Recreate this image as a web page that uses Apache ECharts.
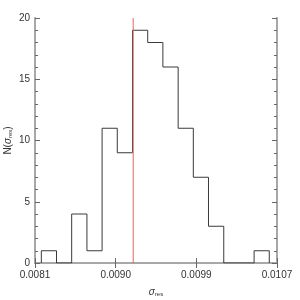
<!DOCTYPE html>
<html><head><meta charset="utf-8">
<script src="https://cdn.jsdelivr.net/npm/echarts@6/dist/echarts.min.js"></script>
<style>html,body{margin:0;padding:0;background:#fff}#c{width:300px;height:300px}</style>
</head><body><div id="c"></div>
<script>
// bin edges (sigma_res) and counts
const binEdges = [0.008188, 0.008351, 0.008514, 0.008678, 0.008841, 0.009004, 0.009168, 0.009331,
                  0.009494, 0.009658, 0.009821, 0.009984, 0.010148, 0.010311, 0.010474, 0.010637];
const counts = [1, 0, 4, 1, 11, 9, 19, 18, 16, 11, 7, 3, 0, 0, 1];
const xRange = [0.00812, 0.01072];
const xTickValues = [0.00812, 0.008987, 0.009853, 0.01072];
const xTickLabels = ['0.0081', '0.0090', '0.0099', '0.0107'];
const redLineX = 0.009175;

const stepData = [[binEdges[0], 0]];
counts.forEach((c, i) => stepData.push([binEdges[i], c]));
stepData.push([binEdges[binEdges.length - 1], counts[counts.length - 1]]);
stepData.push([binEdges[binEdges.length - 1], 0]);

const axisGray = '#a8a8a8';
const txt = '#333';
const font = 'Liberation Sans';
const rich = {
  s: {fontSize: 10, fontStyle: 'italic', fontFamily: font, color: txt, lineHeight: 12},
  n: {fontSize: 10, fontFamily: font, color: txt, lineHeight: 12},
  r: {fontSize: 6, fontFamily: font, color: txt, lineHeight: 6, padding: [5, 0, 0, 0]}
};

const chart = echarts.init(document.getElementById('c'), null, {renderer: 'canvas'});
chart.setOption({
  animation: false,
  backgroundColor: '#fff',
  grid: {left: 35, right: 23, top: 18, bottom: 37, containLabel: false, outerBoundsMode: 'none'},
  xAxis: [{
    type: 'value', min: xRange[0], max: xRange[1], position: 'bottom',
    name: '{s|σ}{r|res}', nameLocation: 'middle', nameGap: 23,
    nameTextStyle: {rich: rich},
    axisLine: {show: true, lineStyle: {color: axisGray, width: 2}},
    axisTick: {show: true, inside: true, length: 5, customValues: xTickValues, lineStyle: {color: '#666'}},
    axisLabel: {customValues: xTickValues, margin: 7, color: txt, fontSize: 10, fontFamily: font,
      formatter: v => { const i = xTickValues.findIndex(t => Math.abs(t - v) < 1e-7); return i >= 0 ? xTickLabels[i] : ''; }},
    splitLine: {show: false}
  }, {
    type: 'value', min: xRange[0], max: xRange[1], position: 'top',
    axisLine: {show: true, lineStyle: {color: axisGray, width: 2}},
    axisTick: {show: true, inside: true, length: 5, customValues: xTickValues, lineStyle: {color: '#666'}},
    axisLabel: {show: false}, splitLine: {show: false}
  }],
  yAxis: [{
    type: 'value', min: 0, max: 20, interval: 5, position: 'left',
    name: '{n|N(}{s|σ}{r|res}{n|)}', nameLocation: 'middle', nameGap: 21, nameRotate: 90,
    nameMoveOverlap: false,
    nameTextStyle: {rich: rich},
    axisLine: {show: true, lineStyle: {color: axisGray, width: 2}},
    axisTick: {show: true, inside: true, length: 5, lineStyle: {color: '#666'}},
    minorTick: {show: true, splitNumber: 5, length: 3, lineStyle: {color: '#666'}},
    axisLabel: {margin: 5, color: txt, fontSize: 10, fontFamily: font},
    splitLine: {show: false}, minorSplitLine: {show: false}
  }, {
    type: 'value', min: 0, max: 20, interval: 5, position: 'right',
    axisLine: {show: true, lineStyle: {color: axisGray, width: 2}},
    axisTick: {show: true, inside: true, length: 5, lineStyle: {color: '#666'}},
    minorTick: {show: true, splitNumber: 5, length: 3, lineStyle: {color: '#666'}},
    axisLabel: {show: false}, splitLine: {show: false}, minorSplitLine: {show: false}
  }],
  series: [{
    type: 'line', step: 'end', data: stepData, xAxisIndex: 0, yAxisIndex: 0,
    symbol: 'none', lineStyle: {color: '#3a3a3a', width: 1}, z: 3
  }, {
    type: 'line', data: [[redLineX, 0], [redLineX, 20]], xAxisIndex: 0, yAxisIndex: 0,
    symbol: 'none', lineStyle: {color: '#e06464', width: 1}, z: 4
  }]
});
</script></body></html>
